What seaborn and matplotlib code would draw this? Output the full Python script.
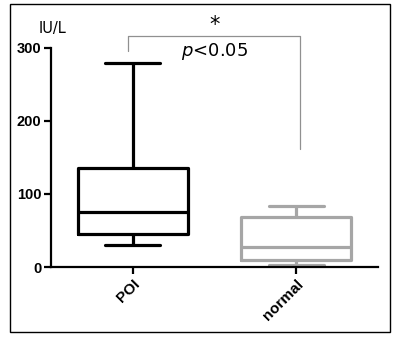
import matplotlib
matplotlib.use("Agg")
import matplotlib.pyplot as plt
import seaborn as sns
import pandas as pd
from matplotlib.patches import Rectangle

# Five-number summaries (min, Q1, median, Q3, max)
groups = ["POI", "normal"]
poi_values = [30, 45, 76, 135, 280]
normal_values = [3, 10, 28, 68, 84]
y_ticks = [0, 100, 200, 300]
colors = {"POI": "#000000", "normal": "#a6a6a6"}

df = pd.DataFrame({
    "group": ["POI"] * len(poi_values) + ["normal"] * len(normal_values),
    "value": poi_values + normal_values,
})

sns.set_style("ticks")
plt.rcParams["text.color"] = "black"
fig = plt.figure(figsize=(4.0, 3.37), dpi=100)
ax = fig.add_axes([0.1275, 0.2077, 0.8175, 0.65])

sns.boxplot(data=df, x="group", y="value", hue="group", order=groups,
            palette=colors, fill=False, width=0.67, whis=(0, 100),
            linewidth=2.3, legend=False, ax=ax)

ax.set_xlim(-0.5, 1.5)
ax.set_ylim(0, 300)
ax.set_yticks(y_ticks)
ax.set_yticklabels([str(t) for t in y_ticks], fontsize=10.5,
                   fontweight="bold", family="Liberation Sans", color="black")
ax.set_xticks([0, 1])
ax.set_xticklabels(groups, rotation=45, ha="right", rotation_mode="anchor",
                   fontsize=11, fontweight="bold", family="Liberation Sans",
                   color="black")
ax.set_xlabel("")
ax.set_ylabel("")
sns.despine(ax=ax)
for sp in ["left", "bottom"]:
    ax.spines[sp].set_linewidth(1.6)
    ax.spines[sp].set_color("black")
ax.tick_params(axis="both", length=5, width=1.6, colors="black", pad=2)

# Unit label
fig.text(0.13, 0.914, "IU/L", ha="center", va="center", fontsize=10.5,
         family="DejaVu Sans", color="black")

# Significance bracket
bc = "#909090"
ax.plot([-0.03, -0.03, 1.025, 1.025], [296, 317, 317, 161], color=bc,
        lw=0.9, clip_on=False)
ax.text(0.5, 331, "*", ha="center", va="center", fontsize=15,
        family="DejaVu Sans", color="black")
ax.text(0.5, 295, r"$p$<0.05", ha="center", va="center", fontsize=13,
        family="DejaVu Sans", color="black")

# Outer frame
fig.patches.append(Rectangle((9.5 / 400, 1 - 331.5 / 337), 380.5 / 400,
                             327.5 / 337, transform=fig.transFigure,
                             fill=False, edgecolor="black", lw=1.0))

fig.savefig("out.png", dpi=100)
